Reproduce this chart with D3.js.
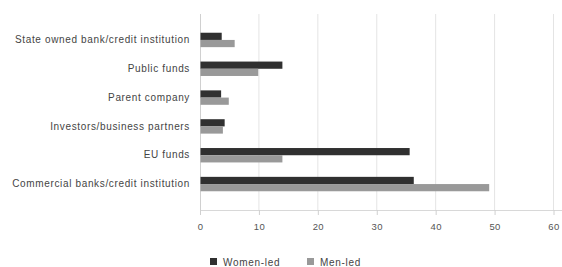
<!DOCTYPE html>
<html>
<head>
<meta charset="utf-8">
<script src="https://cdn.jsdelivr.net/npm/d3@7"></script>
<style>
  body { margin: 0; background: #fff; }
  text { font-family: "Liberation Sans", Arial, sans-serif; }
</style>
</head>
<body>
<svg id="barchart"></svg>
<script>
const categories = [
    "State owned bank/credit institution",
    "Public funds",
    "Parent company",
    "Investors/business partners",
    "EU funds",
    "Commercial banks/credit institution"
];
const womenLed = [3.6, 13.9, 3.5, 4.1, 35.5, 36.2];
const menLed = [5.8, 9.8, 4.8, 3.8, 13.9, 49.0];
const seriesNames = ["Women-led", "Men-led"];
const seriesColors = ["#303030", "#999999"];
const xTicks = [0, 10, 20, 30, 40, 50, 60];

const WIDTH = 562, HEIGHT = 267;
const margin = { top: 14, bottom: 57, left: 200, right: 8 };
const width = WIDTH - margin.left - margin.right,
      height = HEIGHT - margin.top - margin.bottom;

const svg = d3.select("svg#barchart")
    .attr("width", WIDTH)
    .attr("height", HEIGHT);

const g = svg.append("g")
    .attr("transform", `translate(${margin.left}, ${margin.top})`);

const xScale = d3.scaleLinear().domain([0, 60]).range([0, 353.5]);

const yScale = d3.scaleBand()
    .domain(categories)
    .range([0, height])
    .paddingInner(0.5)
    .paddingOuter(0.65);

const subScale = d3.scaleBand()
    .domain(seriesNames)
    .range([0, yScale.bandwidth()]);

// gridlines
g.append("g")
    .selectAll("line")
    .data(xTicks.slice(1))
    .join("line")
    .attr("x1", (d) => xScale(d))
    .attr("x2", (d) => xScale(d))
    .attr("y1", 0)
    .attr("y2", height)
    .attr("stroke", "#e4e4e4");

// x axis
const xAxis = g.append("g")
    .attr("transform", `translate(0, ${height})`)
    .call(d3.axisBottom(xScale).tickValues(xTicks).tickSize(5).tickPadding(8));
xAxis.select(".domain").attr("stroke", "#d8d8d8").attr("d", `M0,0.5H${WIDTH - margin.left}`);
xAxis.selectAll(".tick line").attr("stroke", "#d0d0d0");
xAxis.selectAll(".tick text")
    .attr("fill", "#555")
    .style("font-size", "9.5px")
    .style("letter-spacing", "0.4px");

// y axis
const yAxis = g.append("g")
    .call(d3.axisLeft(yScale).tickSize(0).tickPadding(10));
yAxis.select(".domain").attr("stroke", "#d0d0d0").attr("d", `M0.5,0V${height + 5}`);
yAxis.selectAll(".tick text")
    .attr("fill", "#444")
    .style("font-size", "10px")
    .style("letter-spacing", "0.65px");

const rows = categories.map((c, i) => ({ cat: c, values: [womenLed[i], menLed[i]] }));

g.selectAll("g.row")
    .data(rows)
    .join("g")
    .attr("class", "row")
    .attr("transform", (d) => `translate(0, ${yScale(d.cat)})`)
    .selectAll("rect")
    .data((d) => d.values.map((v, j) => ({ key: seriesNames[j], value: v, color: seriesColors[j] })))
    .join("rect")
    .attr("x", 0.5)
    .attr("y", (d) => subScale(d.key))
    .attr("height", subScale.bandwidth())
    .attr("width", (d) => xScale(d.value))
    .attr("fill", (d) => d.color);

// legend
const legend = svg.append("g")
    .attr("transform", `translate(210, 258)`);

const legendItems = legend.selectAll("g")
    .data(seriesNames)
    .join("g")
    .attr("transform", (d, i) => `translate(${i * 97}, 0)`);

legendItems.append("rect")
    .attr("width", 7)
    .attr("height", 7)
    .attr("fill", (d, i) => seriesColors[i]);

legendItems.append("text")
    .attr("x", 13)
    .attr("y", 7.5)
    .attr("fill", "#444")
    .style("font-size", "10px")
    .style("letter-spacing", "0.7px")
    .text((d) => d);
</script>
</body>
</html>
